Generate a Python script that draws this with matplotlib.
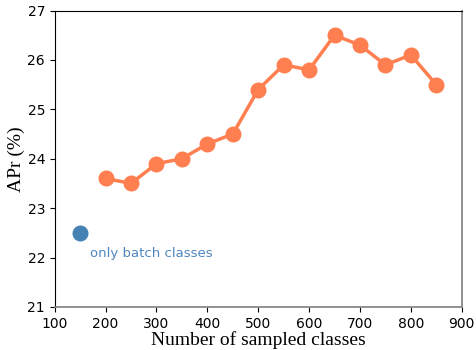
import matplotlib
matplotlib.use("Agg")
import matplotlib.pyplot as plt

# APr vs. number of sampled classes
num_classes = [200, 250, 300, 350, 400, 450, 500, 550, 600, 650, 700, 750, 800, 850]
apr = [23.6, 23.5, 23.9, 24.0, 24.3, 24.5, 25.4, 25.9, 25.8, 26.5, 26.3, 25.9, 26.1, 25.5]

# baseline using only the classes present in the batch
batch_x = [150]
batch_apr = [22.5]

fig, ax = plt.subplots(figsize=(4.76, 3.5), dpi=100)
ax.plot(num_classes, apr, color="#FF7F50", marker="o", markersize=10.5, linewidth=2.5)
ax.plot(batch_x, batch_apr, color="#4682B4", marker="o", markersize=10.5, linestyle="none")
ax.text(170, 22.09, "only batch classes", color="#4F86BE", fontsize=9.5, va="center")

ax.set_xlim(100, 900)
ax.set_ylim(21, 27)
ax.set_xticks(range(100, 901, 100))
ax.set_yticks(range(21, 28))
ax.tick_params(labelsize=10)
ax.set_xlabel("Number of sampled classes", family="Liberation Serif", fontsize=14, labelpad=0)
ax.set_ylabel("APr (%)", family="Liberation Serif", fontsize=14, labelpad=2)
for side in ["right", "bottom"]:
    ax.spines[side].set_color("#888888")
    ax.spines[side].set_linewidth(1.3)

fig.subplots_adjust(left=0.115, right=0.97, top=0.97, bottom=0.123)
fig.savefig("out.png")
